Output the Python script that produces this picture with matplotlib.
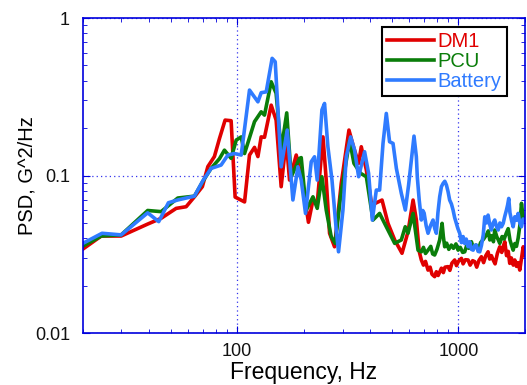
import numpy as np
import matplotlib
matplotlib.use('Agg')
import matplotlib.pyplot as plt
from matplotlib.ticker import LogLocator, NullFormatter, FixedLocator, FixedFormatter

plt.rcParams['font.family'] = ['Liberation Sans', 'DejaVu Sans']

# DM1
dm1_f = [20, 24.3, 29.9, 39.4, 45.3, 53, 58.8, 64.1, 69.6, 73.7, 78.9, 83.2, 88.2, 93.9, 97.9,
         108, 113.7, 119.8, 124.1, 128.4, 132.9, 142.5, 150, 158.1, 166.6, 172.5, 184.9, 194.8,
         210, 220.1, 230.1, 244.3, 252.7, 261.6, 275.5, 295.5, 320.1, 337.2, 354, 363.9, 383.6,
         406.9, 420.9, 451.7, 480.6, 515.3, 556, 591.9, 623.9, 645.6, 665,
         680, 695, 710, 729, 745, 760, 781, 795, 810, 838, 855, 870, 898, 915, 935, 962, 980,
         1000, 1032, 1050, 1075, 1106, 1130, 1160, 1185, 1210, 1240, 1271, 1300, 1330, 1362,
         1385, 1410, 1436, 1465, 1500, 1538, 1570, 1600, 1621, 1650, 1680, 1706, 1735, 1770,
         1798, 1830, 1860, 1894, 1930, 1963, 2000]
dm1_v = [0.034, 0.0413, 0.0413, 0.0492, 0.0535, 0.0619, 0.0634, 0.0733, 0.085, 0.114, 0.132,
         0.172, 0.225, 0.223, 0.073, 0.068, 0.135, 0.151, 0.132, 0.176, 0.175, 0.28, 0.225,
         0.085, 0.168, 0.0936, 0.135, 0.1, 0.0505, 0.0699, 0.0666, 0.176, 0.0936, 0.043, 0.0353,
         0.0892, 0.1945, 0.149, 0.1195, 0.1524, 0.1084, 0.0634, 0.0666, 0.0699, 0.0497, 0.039,
         0.0321, 0.044, 0.0699, 0.0522, 0.033,
         0.0291, 0.027, 0.0285, 0.0251, 0.0262, 0.0236, 0.0228, 0.0245, 0.0232, 0.0258, 0.0242,
         0.0262, 0.0264, 0.025, 0.0278, 0.0291, 0.0268, 0.0285, 0.0298, 0.0275, 0.0292, 0.0291,
         0.027, 0.0288, 0.0284, 0.0262, 0.029, 0.0305, 0.028, 0.031, 0.0328, 0.0295, 0.031,
         0.0291, 0.0275, 0.032, 0.0353, 0.0325, 0.036, 0.038, 0.031, 0.033, 0.0277, 0.03, 0.027,
         0.0291, 0.0265, 0.028, 0.0251, 0.03, 0.0353, 0.031]

# PCU
pcu_f = [20, 24.3, 29.9, 39.4, 45.3, 53.9, 64.1, 70, 76.2, 83.2, 87.6, 93.9, 99, 104.3, 108,
         119.8, 128.4, 132.9, 142.5, 150, 158.1, 167.5, 175.5, 191.4, 194.8, 205.2, 220.1,
         230.1, 241.6, 252.7, 266.1, 277.4, 293.2, 322.3, 337.2, 361.4, 383.6, 411.1, 440.4,
         472.2, 515.3, 552, 575, 592, 624, 657,
         680, 695, 710, 729, 750, 765, 781, 800, 823, 844, 855, 867, 885, 905, 929, 950, 975,
         997, 1020, 1045, 1068, 1090, 1115, 1145, 1170, 1200, 1228, 1260, 1300, 1339, 1365,
         1386, 1415, 1440, 1460, 1490, 1515, 1538, 1575, 1610, 1645, 1679, 1710, 1740, 1768,
         1800, 1830, 1862, 1895, 1928, 1960, 2000]
pcu_v = [0.0355, 0.0413, 0.042, 0.06, 0.059, 0.072, 0.074, 0.092, 0.111, 0.128, 0.145, 0.1286,
         0.168, 0.176, 0.138, 0.22, 0.254, 0.242, 0.394, 0.333, 0.145, 0.25, 0.0983, 0.1286,
         0.13, 0.0604, 0.0733, 0.0619, 0.0983, 0.0604, 0.0409, 0.0371, 0.0733, 0.168, 0.1195,
         0.1033, 0.0983, 0.0522, 0.0575, 0.0473, 0.0371, 0.039, 0.0473, 0.043, 0.0575, 0.0336,
         0.0328, 0.035, 0.032, 0.0336, 0.0355, 0.0318, 0.0313, 0.034, 0.039, 0.0497, 0.041,
         0.0353, 0.0372, 0.034, 0.0362, 0.0345, 0.0368, 0.0336, 0.035, 0.0325, 0.0328, 0.036,
         0.0345, 0.038, 0.0345, 0.0362, 0.0336, 0.0375, 0.0395, 0.042, 0.0445, 0.039, 0.0415,
         0.038, 0.0451, 0.041, 0.039, 0.0371, 0.041, 0.0395, 0.043, 0.046, 0.039, 0.036, 0.0336,
         0.037, 0.0355, 0.04, 0.048, 0.0666, 0.055, 0.0522]

# Battery
bat_f = [20, 24.5, 29.9, 39.4, 44.2, 48.9, 53.9, 64.1, 70, 76.2, 84.6, 90.8, 97.2, 104.3, 113.7,
         124.1, 128.4, 135.3, 143.9, 148.6, 158.1, 168.4, 178.6, 188.2, 194.8, 203.7, 216.2,
         223.7, 230.1, 241.6, 248.3, 257.1, 268.3, 280.5, 287.2, 300.7, 311.3, 325.8, 339.5,
         354, 376.7, 392.7, 408.3, 425.6, 440.4, 456.3, 472.2, 488.5, 506.4, 524.4, 552.1,
         575.6, 595.5, 630, 645.6, 652,
         665, 680, 690, 700, 715, 729, 748, 768, 782, 795, 808, 823, 838, 853, 868, 883, 898,
         913, 930, 946, 962, 979, 995, 1014, 1032, 1050, 1068, 1085, 1106, 1125, 1145, 1166,
         1185, 1206, 1228, 1249, 1271, 1295, 1316, 1340, 1362, 1385, 1409, 1436, 1460, 1490,
         1513, 1540, 1566, 1594, 1620, 1649, 1669, 1689, 1710, 1737, 1768, 1798, 1830, 1862,
         1895, 1928, 1960, 1995]
bat_v = [0.037, 0.043, 0.042, 0.058, 0.051, 0.0672, 0.07, 0.074, 0.0927, 0.111, 0.1166, 0.135,
         0.138, 0.135, 0.349, 0.294, 0.336, 0.34, 0.555, 0.528, 0.1137, 0.1945, 0.07, 0.1137,
         0.0936, 0.0575, 0.1224, 0.1316, 0.0936, 0.261, 0.287, 0.1524, 0.0936, 0.0451, 0.0328,
         0.0604, 0.1316, 0.176, 0.145, 0.0983, 0.1417, 0.1033, 0.0522, 0.0809, 0.0809, 0.16,
         0.248, 0.164, 0.16, 0.111, 0.0771, 0.0604, 0.087, 0.178, 0.1316, 0.098,
         0.07, 0.0522, 0.06, 0.0578, 0.048, 0.043, 0.048, 0.0522, 0.046, 0.043, 0.058, 0.0733,
         0.085, 0.0892, 0.092, 0.087, 0.079, 0.0699, 0.066, 0.0604, 0.054, 0.0497, 0.046, 0.043,
         0.0375, 0.041, 0.037, 0.0395, 0.0353, 0.038, 0.034, 0.0336, 0.036, 0.0362, 0.033,
         0.0328, 0.036, 0.042, 0.0547, 0.05, 0.0561, 0.049, 0.0451, 0.05, 0.0522, 0.047, 0.0451,
         0.05, 0.0473, 0.0497, 0.055, 0.0604, 0.065, 0.0716, 0.058, 0.0522, 0.0473, 0.0547,
         0.052, 0.0575, 0.05, 0.0473, 0.053, 0.052]

fig = plt.figure(figsize=(5.27, 3.85), dpi=100)
ax = fig.add_axes([0.1566, 0.135, 0.8396, 0.818])

ax.plot(dm1_f, dm1_v, color='#e00000', lw=2.6, label='DM1')
ax.plot(pcu_f, pcu_v, color='#0a7d0a', lw=2.6, label='PCU')
ax.plot(bat_f, bat_v, color='#2f7bff', lw=2.6, label='Battery')

ax.set_xscale('log')
ax.set_yscale('log')
ax.set_xlim(20, 2000)
ax.set_ylim(0.01, 1)

blue = '#0000dd'
for s in ax.spines.values():
    s.set_color(blue)
    s.set_linewidth(1.2)

ax.xaxis.set_major_locator(FixedLocator([100, 1000]))
ax.xaxis.set_major_formatter(FixedFormatter(['100', '1000']))
ax.yaxis.set_major_locator(FixedLocator([0.01, 0.1, 1]))
ax.yaxis.set_major_formatter(FixedFormatter(['0.01', '0.1', '1']))
ax.xaxis.set_minor_locator(LogLocator(base=10, subs=np.arange(2, 10)))
ax.yaxis.set_minor_locator(LogLocator(base=10, subs=np.arange(2, 10)))
ax.xaxis.set_minor_formatter(NullFormatter())
ax.yaxis.set_minor_formatter(NullFormatter())
ax.tick_params(which='both', direction='in', top=True, right=True, color=blue,
               labelsize=13, labelcolor='#111111')
ax.tick_params(axis='x', which='major', length=5, pad=7)
ax.tick_params(axis='y', which='major', length=5, pad=9)
ax.tick_params(which='minor', length=3)

ax.grid(True, which='major', color='#3333ee', linestyle=(0, (1, 2.5)), lw=0.9)

ax.set_xlabel('Frequency, Hz', fontsize=16.5, labelpad=1)
ax.set_ylabel('PSD, G^2/Hz', fontsize=14.5, labelpad=-1)

leg = ax.legend(loc='upper right', bbox_to_anchor=(0.959, 0.971), borderaxespad=0,
                fontsize=14.5, handlelength=2.3, handletextpad=0.2, borderpad=0.25,
                labelspacing=0.05, fancybox=False, framealpha=1, edgecolor='black')
leg.get_frame().set_linewidth(1.5)
for line, text in zip(leg.get_lines(), leg.get_texts()):
    text.set_color(line.get_color())

fig.savefig('out.png', dpi=100)
